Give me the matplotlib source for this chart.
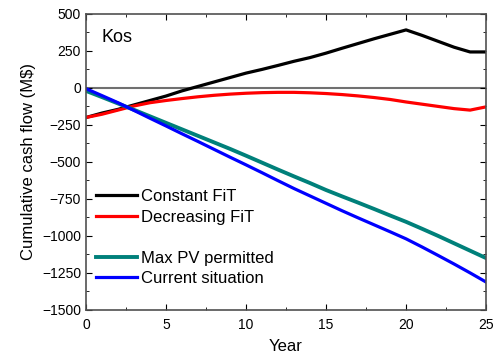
import numpy as np
import matplotlib
matplotlib.use("Agg")
import matplotlib.pyplot as plt
from matplotlib.ticker import MultipleLocator

plt.rcParams['font.family'] = ['Liberation Sans', 'DejaVu Sans']

years = [0, 1, 2, 3, 4, 5, 6, 7, 8, 9, 10, 11, 12, 13, 14, 15, 16, 17, 18, 19, 20,
         21, 22, 23, 24, 25]
constant_fit = [-200, -170, -145, -115, -85, -55, -20, 10, 40, 70, 100, 125, 152, 180,
                205, 235, 268, 300, 332, 362, 392, 355, 315, 275, 243, 243]
decreasing_fit = [-200, -178, -150, -122, -100, -85, -72, -60, -50, -42, -36, -32, -30,
                  -30, -33, -38, -45, -54, -65, -78, -95, -110, -125, -140, -150, -128]
max_pv = [-20, -62, -105, -148, -192, -236, -280, -324, -368, -412, -458, -505, -552,
          -598, -643, -690, -733, -775, -818, -862, -905, -952, -1000, -1050, -1100, -1150]
current = [-5, -52, -100, -152, -205, -257, -310, -362, -415, -468, -520, -573, -627,
           -680, -730, -780, -830, -878, -925, -972, -1020, -1075, -1132, -1190, -1250, -1312]

fig = plt.figure(figsize=(4.94, 3.57), dpi=100)
ax = fig.add_axes([0.174, 0.132, 0.81, 0.829])

ax.axhline(0, color='#707070', lw=1.5, zorder=1)
ax.plot(years, constant_fit, color='black', lw=2.3, label='Constant FiT')
ax.plot(years, decreasing_fit, color='#ff0000', lw=2.3, label='Decreasing FiT')
ax.plot([], [], color='none', label=' ')
ax.plot(years, max_pv, color='#00807a', lw=2.8, label='Max PV permitted')
ax.plot(years, current, color='#0000ff', lw=2.3, label='Current situation')

ax.set_xlim(0, 25)
ax.set_ylim(-1500, 500)
ax.xaxis.set_major_locator(MultipleLocator(5))
ax.xaxis.set_minor_locator(MultipleLocator(2.5))
ax.yaxis.set_major_locator(MultipleLocator(250))
ax.yaxis.set_minor_locator(MultipleLocator(125))
ax.tick_params(which='both', direction='in', top=True, right=True, labelsize=10)
ax.tick_params(which='major', length=4)
ax.tick_params(which='minor', length=2)
ax.tick_params(axis='x', pad=6)
for s in ax.spines.values():
    s.set_color('#505050')
    s.set_linewidth(1.2)

ax.set_xlabel('Year', fontsize=12, labelpad=5)
ax.set_ylabel('Cumulative cash flow (M$)', fontsize=12, labelpad=4)
ax.text(0.95, 340, 'Kos', fontsize=13, va='center')

ax.legend(loc='lower left', bbox_to_anchor=(0.025, 0.08), frameon=False, fontsize=12,
          handlelength=2.45, handletextpad=0.25, labelspacing=0.33, borderpad=0,
          borderaxespad=0)

fig.savefig('out.png', dpi=100)
